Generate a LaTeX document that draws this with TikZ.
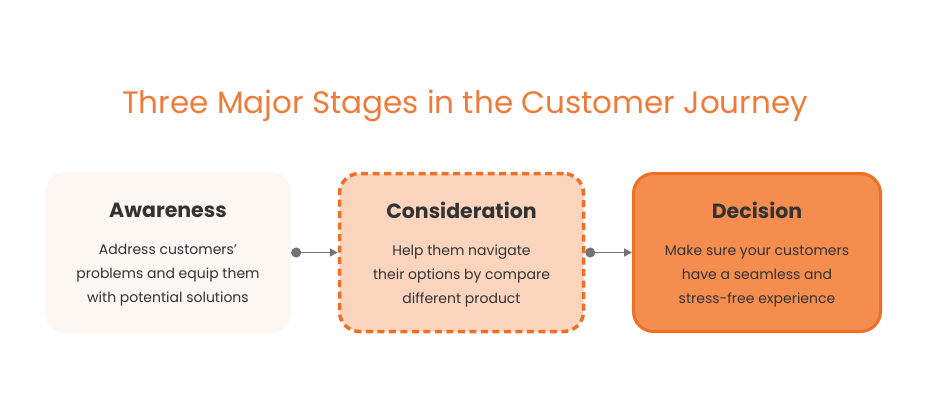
\documentclass[tikz,border=0pt]{standalone}
\usepackage{xcolor}
\usepackage{fontspec}
\setmainfont{Poppins}
\usetikzlibrary{positioning, arrows.meta}

\definecolor{titleorange}{HTML}{EE7B3A}
\definecolor{inkgray}{HTML}{333333}
\definecolor{linkgray}{HTML}{737373}
\definecolor{awarefill}{HTML}{FDF7F3}
\definecolor{considfill}{HTML}{FBD4BE}
\definecolor{decidefill}{HTML}{F58D4F}
\definecolor{stageorange}{HTML}{EC7026}

\newcommand{\stagehead}{\fontsize{20.5}{24}\selectfont\bfseries}

\begin{document}
\begin{tikzpicture}[x=1pt, y=-1pt,
    stagebox/.style={rounded corners=20pt, minimum width=244pt, minimum height=158pt, align=center, inner sep=0pt, text depth=-3.5pt, text=inkgray, font=\fontsize{14}{24}\selectfont},
    link/.style={draw=linkgray, line width=1.7pt, {Circle[length=10pt]}-{Triangle[length=8pt, width=8pt]}}
]
\useasboundingbox (0,0) rectangle (930,420);

\node[text=titleorange, font=\fontsize{31}{36}\selectfont] (title) at (465,106) {Three Major Stages in the Customer Journey};

\node[stagebox, fill=awarefill, minimum width=246pt, minimum height=161pt] (aware) at (168,252.5) {{\stagehead Awareness}\\[13pt]Address customers’\\problems and equip them\\with potential solutions};
\node[stagebox, fill=considfill, draw=stageorange, line width=3.5pt, dash pattern=on 7pt off 4.5pt] (consid) at (461.5,252.5) {{\stagehead Consideration}\\[13pt]Help them navigate\\their options by compare\\different product};
\node[stagebox, fill=decidefill, draw=stageorange, line width=3pt, minimum width=247pt] (decide) at (757,252.5) {{\stagehead Decision}\\[13pt]Make sure your customers\\have a seamless and\\stress-free experience};

\draw[link] (aware) -- (consid);
\draw[link] (consid) -- (decide);
\end{tikzpicture}
\end{document}
